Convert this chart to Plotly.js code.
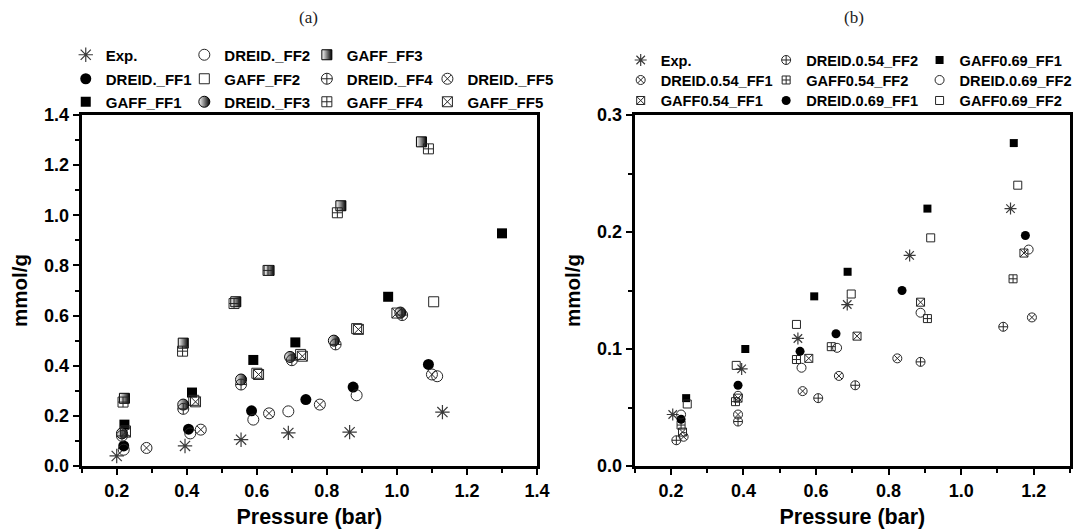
<!DOCTYPE html>
<html><head><meta charset="utf-8">
<script src="https://cdn.plot.ly/plotly-3.0.1.min.js"></script>
<style>html,body{margin:0;padding:0;background:#fff}#chart{width:1077px;height:529px}</style>
</head><body><div id="chart"></div>
<script>
// ---------- Panel (a) data ----------
const a_exp_x    = [0.20, 0.395, 0.555, 0.69, 0.865, 1.13];
const a_exp_y    = [0.040, 0.080, 0.105, 0.132, 0.135, 0.215];
const a_d1_x     = [0.22, 0.405, 0.585, 0.74, 0.875, 1.09];
const a_d1_y     = [0.080, 0.147, 0.220, 0.265, 0.315, 0.405];
const a_g1_x     = [0.222, 0.415, 0.59, 0.71, 0.975, 1.30];
const a_g1_y     = [0.165, 0.293, 0.423, 0.493, 0.675, 0.928];
const a_d2_x     = [0.22, 0.41, 0.59, 0.69, 0.885, 1.115];
const a_d2_y     = [0.065, 0.130, 0.185, 0.218, 0.282, 0.358];
const a_g2_x     = [0.225, 0.42, 0.60, 0.725, 0.885, 1.105];
const a_g2_y     = [0.140, 0.262, 0.370, 0.445, 0.548, 0.655];
const a_d3_x     = [0.215, 0.39, 0.555, 0.695, 0.82, 1.01];
const a_d3_y     = [0.130, 0.245, 0.345, 0.435, 0.500, 0.612];
const a_g3_x     = [0.222, 0.39, 0.54, 0.635, 0.84, 1.07];
const a_g3_y     = [0.270, 0.490, 0.655, 0.780, 1.038, 1.293];
const a_d4_x     = [0.215, 0.39, 0.555, 0.70, 0.825, 1.015];
const a_d4_y     = [0.120, 0.228, 0.325, 0.422, 0.485, 0.602];
const a_g4_x     = [0.218, 0.388, 0.535, 0.632, 0.83, 1.09];
const a_g4_y     = [0.255, 0.458, 0.648, 0.780, 1.010, 1.265];
const a_d5_x     = [0.285, 0.44, 0.635, 0.78, 1.10];
const a_d5_y     = [0.072, 0.145, 0.210, 0.245, 0.365];
const a_g5_x     = [0.225, 0.425, 0.605, 0.73, 0.89, 1.00];
const a_g5_y     = [0.135, 0.256, 0.365, 0.438, 0.545, 0.610];

// ---------- Panel (b) data ----------
const b_exp_x    = [0.205, 0.395, 0.55, 0.686, 0.858, 1.136];
const b_exp_y    = [0.044, 0.083, 0.109, 0.138, 0.180, 0.220];
const b_d54f1_x  = [0.235, 0.385, 0.563, 0.663, 0.824, 1.195];
const b_d54f1_y  = [0.025, 0.044, 0.064, 0.077, 0.092, 0.127];
const b_g54f1_x  = [0.232, 0.385, 0.58, 0.713, 0.888, 1.173];
const b_g54f1_y  = [0.029, 0.058, 0.092, 0.111, 0.140, 0.182];
const b_d54f2_x  = [0.215, 0.385, 0.606, 0.708, 0.888, 1.116];
const b_d54f2_y  = [0.022, 0.038, 0.058, 0.069, 0.089, 0.119];
const b_g54f2_x  = [0.228, 0.378, 0.546, 0.642, 0.907, 1.143];
const b_g54f2_y  = [0.035, 0.055, 0.091, 0.102, 0.126, 0.160];
const b_d69f1_x  = [0.228, 0.385, 0.556, 0.655, 0.837, 1.177];
const b_d69f1_y  = [0.040, 0.069, 0.098, 0.113, 0.150, 0.197];
const b_g69f1_x  = [0.242, 0.405, 0.595, 0.687, 0.907, 1.145];
const b_g69f1_y  = [0.058, 0.100, 0.145, 0.166, 0.220, 0.276];
const b_d69f2_x  = [0.228, 0.385, 0.56, 0.658, 0.888, 1.186];
const b_d69f2_y  = [0.044, 0.060, 0.084, 0.101, 0.131, 0.185];
const b_g69f2_x  = [0.245, 0.38, 0.546, 0.697, 0.916, 1.156];
const b_g69f2_y  = [0.053, 0.086, 0.121, 0.147, 0.195, 0.240];

// tick values / labels
const a_xticks = [0.2, 0.4, 0.6, 0.8, 1.0, 1.2, 1.4];
const a_yticks = [0.0, 0.2, 0.4, 0.6, 0.8, 1.0, 1.2, 1.4];
const b_xticks = [0.2, 0.4, 0.6, 0.8, 1.0, 1.2];
const b_yticks = [0.0, 0.1, 0.2, 0.3];

// ---------- styling helpers ----------
const W = 1077, H = 529;
const px = p => p / W, py = p => 1 - p / H;
const SANS = '"Liberation Sans", Arial, sans-serif';
const INK = '#262626';

function mk(kind, size) {
  switch (kind) {
    case 'ast':  return {symbol:'asterisk-open', size:size+1, color:'#3a3a3a', line:{color:'#3a3a3a', width:1.2}};
    case 'fc':   return {symbol:'circle', size:size, color:'#000', line:{width:0}};
    case 'fs':   return {symbol:'square', size:size-1, color:'#000', line:{width:0}};
    case 'oc':   return {symbol:'circle-open', size:size, color:INK, line:{color:INK, width:1}};
    case 'os':   return {symbol:'square-open', size:size-1, color:INK, line:{color:INK, width:1}};
    case 'hc':   return {symbol:'circle', size:size, color:'#fff', gradient:{type:'horizontal', color:'#000'}, line:{color:'#000', width:1}};
    case 'hs':   return {symbol:'square', size:size-1, color:'#fff', gradient:{type:'horizontal', color:'#000'}, line:{color:'#000', width:1}};
    case 'cc':   return {symbol:'circle-cross-open', size:size, color:INK, line:{color:INK, width:1}};
    case 'sc':   return {symbol:'square-cross-open', size:size-1, color:INK, line:{color:INK, width:1}};
    case 'cx':   return {symbol:'circle-x-open', size:size, color:INK, line:{color:INK, width:1}};
    case 'sx':   return {symbol:'square-x-open', size:size-1, color:INK, line:{color:INK, width:1}};
  }
}

const traces = [];
const layout = {
  width: W, height: H,
  margin: {l:0, r:0, t:0, b:0},
  paper_bgcolor: '#fff', plot_bgcolor: '#fff',
  showlegend: true,
  annotations: [],
};
let legendCount = 0;

function addSeries(name, xs, ys, kind, size, xa, ya, textX, rowY, fontSize) {
  legendCount += 1;
  const lid = legendCount === 1 ? 'legend' : 'legend' + legendCount;
  traces.push({type:'scatter', mode:'markers', name:name, x:xs, y:ys,
    xaxis:xa, yaxis:ya, legend:lid, marker:mk(kind, size), cliponaxis:false, hoverinfo:'x+y+name'});
  layout[lid] = {
    x: px(textX - 40), xanchor:'left', y: py(rowY), yanchor:'middle',
    orientation:'v', bgcolor:'rgba(0,0,0,0)', borderwidth:0,
    font:{family:SANS, size:fontSize, color:'#000', weight:'bold'},
    itemclick:false, itemdoubleclick:false, itemsizing:'trace'
  };
}

// legend grid positions (text start x, row centre y), in pixels
const A_COLS = [106, 225, 348, 469], A_ROWS = [55, 79, 102];
const B_COLS = [663, 809, 963],      B_ROWS = [60, 80, 100.5];
const AS = 11, BS = 9, AF = 15, BF = 14.6;

addSeries('Exp.',       a_exp_x, a_exp_y, 'ast', AS, 'x', 'y', A_COLS[0], A_ROWS[0], AF);
addSeries('DREID._FF1', a_d1_x,  a_d1_y,  'fc',  AS, 'x', 'y', A_COLS[0], A_ROWS[1], AF);
addSeries('GAFF_FF1',   a_g1_x,  a_g1_y,  'fs',  AS, 'x', 'y', A_COLS[0], A_ROWS[2], AF);
addSeries('DREID._FF2', a_d2_x,  a_d2_y,  'oc',  AS, 'x', 'y', A_COLS[1], A_ROWS[0], AF);
addSeries('GAFF_FF2',   a_g2_x,  a_g2_y,  'os',  AS, 'x', 'y', A_COLS[1], A_ROWS[1], AF);
addSeries('DREID._FF3', a_d3_x,  a_d3_y,  'hc',  AS, 'x', 'y', A_COLS[1], A_ROWS[2], AF);
addSeries('GAFF_FF3',   a_g3_x,  a_g3_y,  'hs',  AS, 'x', 'y', A_COLS[2], A_ROWS[0], AF);
addSeries('DREID._FF4', a_d4_x,  a_d4_y,  'cc',  AS, 'x', 'y', A_COLS[2], A_ROWS[1], AF);
addSeries('GAFF_FF4',   a_g4_x,  a_g4_y,  'sc',  AS, 'x', 'y', A_COLS[2], A_ROWS[2], AF);
addSeries('DREID._FF5', a_d5_x,  a_d5_y,  'cx',  AS, 'x', 'y', A_COLS[3], A_ROWS[1], AF);
addSeries('GAFF_FF5',   a_g5_x,  a_g5_y,  'sx',  AS, 'x', 'y', A_COLS[3], A_ROWS[2], AF);

addSeries('Exp.',            b_exp_x,   b_exp_y,   'ast', BS, 'x2', 'y2', B_COLS[0], B_ROWS[0], BF);
addSeries('DREID.0.54_FF1',  b_d54f1_x, b_d54f1_y, 'cx',  BS, 'x2', 'y2', B_COLS[0], B_ROWS[1], BF);
addSeries('GAFF0.54_FF1',    b_g54f1_x, b_g54f1_y, 'sx',  BS, 'x2', 'y2', B_COLS[0], B_ROWS[2], BF);
addSeries('DREID.0.54_FF2',  b_d54f2_x, b_d54f2_y, 'cc',  BS, 'x2', 'y2', B_COLS[1], B_ROWS[0], BF);
addSeries('GAFF0.54_FF2',    b_g54f2_x, b_g54f2_y, 'sc',  BS, 'x2', 'y2', B_COLS[1], B_ROWS[1], BF);
addSeries('DREID.0.69_FF1',  b_d69f1_x, b_d69f1_y, 'fc',  BS, 'x2', 'y2', B_COLS[1], B_ROWS[2], BF);
addSeries('GAFF0.69_FF1',    b_g69f1_x, b_g69f1_y, 'fs',  BS, 'x2', 'y2', B_COLS[2], B_ROWS[0], BF);
addSeries('DREID.0.69_FF2',  b_d69f2_x, b_d69f2_y, 'oc',  BS, 'x2', 'y2', B_COLS[2], B_ROWS[1], BF);
addSeries('GAFF0.69_FF2',    b_g69f2_x, b_g69f2_y, 'os',  BS, 'x2', 'y2', B_COLS[2], B_ROWS[2], BF);

// ---------- axes ----------
function axis(domain, range, tickvals, minorDtick, anchor, title, standoff, titleSize) {
  return {
    domain: domain, range: range, anchor: anchor,
    tickmode:'array', tickvals: tickvals, tickformat:'.1f',
    showgrid:false, zeroline:false,
    showline:true, linecolor:'#000', linewidth:3, mirror:true,
    ticks:'outside', ticklen:6, tickwidth:2, tickcolor:'#000',
    minor:{dtick:minorDtick, tick0:0, ticks:'outside', ticklen:4, tickwidth:2, tickcolor:'#000', showgrid:false},
    tickfont:{family:SANS, size:18, color:'#000', weight:'bold'},
    title:{text:title, standoff:standoff, font:{family:SANS, size:titleSize, color:'#000', weight:'bold'}},
    automargin:false, fixedrange:true
  };
}
const yDom = [py(466), py(115)];
layout.xaxis  = axis([px(82),  px(539)],  [0.1, 1.4], a_xticks, 0.1,  'y',  'Pressure (bar)', 11, 21.5);
layout.yaxis  = axis(yDom,                [0, 1.4],   a_yticks, 0.1,  'x',  'mmol/g', 11, 20.5);
layout.xaxis2 = axis([px(637), px(1074)], [0.1, 1.3], b_xticks, 0.1,  'y2', 'Pressure (bar)', 11, 21.5);
layout.yaxis2 = axis(yDom,                [0, 0.3],   b_yticks, 0.05, 'x2', 'mmol/g', 11, 20.5);

// panel labels
layout.annotations.push(
  {text:'(a)', xref:'paper', yref:'paper', x:px(310), y:py(18), showarrow:false, xanchor:'center', yanchor:'middle',
   font:{family:'"Liberation Serif", "Times New Roman", serif', size:17, color:'#222'}},
  {text:'(b)', xref:'paper', yref:'paper', x:px(857), y:py(18), showarrow:false, xanchor:'center', yanchor:'middle',
   font:{family:'"Liberation Serif", "Times New Roman", serif', size:17, color:'#222'}}
);

Plotly.newPlot('chart', traces, layout, {displayModeBar:false, responsive:false, staticPlot:false});
</script>
</body></html>
